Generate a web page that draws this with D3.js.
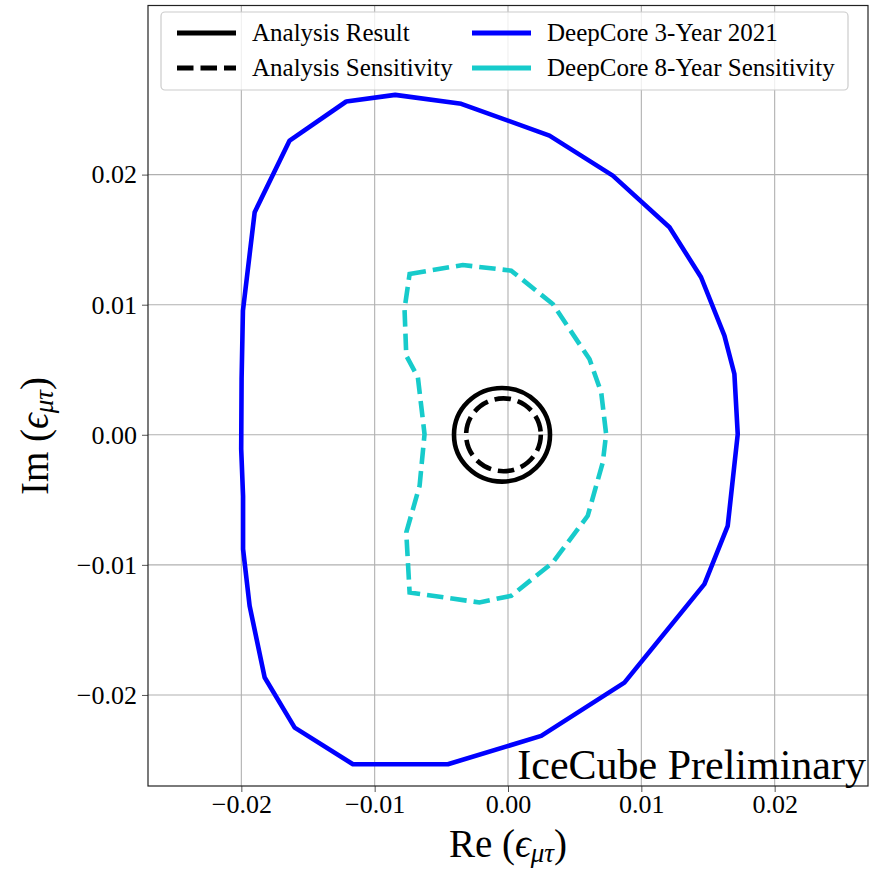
<!DOCTYPE html>
<html>
<head>
<meta charset="utf-8">
<script src="https://cdn.jsdelivr.net/npm/d3@7"></script>
<style>
  html, body { margin: 0; padding: 0; background: #fff; }
  svg { display: block; }
  text { font-family: "Liberation Serif", "DejaVu Serif", serif; fill: #000; }
</style>
</head>
<body>
<svg id="chart" width="878" height="869"></svg>
<script>
// Re / Im of epsilon_mu-tau: DeepCore 3-year 2021 contour (closed, clockwise)
const deepCore3yr = [
  [-0.01213, 0.02562], [-0.00846, 0.02613], [-0.00351, 0.02544], [0.00311, 0.02300],
  [0.00786, 0.01992], [0.01211, 0.01595], [0.01448, 0.01211], [0.01623, 0.00762],
  [0.01698, 0.00467], [0.01723, 0.00005], [0.01648, -0.00700], [0.01473, -0.01148],
  [0.00873, -0.01905], [0.00249, -0.02315], [-0.00451, -0.02533], [-0.01163, -0.02533],
  [-0.01600, -0.02251], [-0.01825, -0.01866], [-0.01938, -0.01315], [-0.01987, -0.00879],
  [-0.01987, -0.00472], [-0.02001, -0.00110], [-0.01998, 0.00428], [-0.01988, 0.00954],
  [-0.01900, 0.01711], [-0.01638, 0.02262]
];

// DeepCore 8-year sensitivity contour (closed, clockwise)
const deepCore8yr = [
  [-0.00738, 0.01236], [-0.00339, 0.01305], [0.00024, 0.01262], [0.00336, 0.01005],
  [0.00611, 0.00582], [0.00699, 0.00326], [0.00736, 0.00005], [0.00711, -0.00212],
  [0.00598, -0.00623], [0.00336, -0.00982], [0.00024, -0.01238], [-0.00214, -0.01289],
  [-0.00738, -0.01212], [-0.00763, -0.00751], [-0.00663, -0.00392], [-0.00626, 0.00005],
  [-0.00676, 0.00442], [-0.00763, 0.00608], [-0.00776, 0.00967]
];

// Analysis contours: [centre Re, centre Im, radius]
const analysisResult = [-0.00045, 0.0, 0.0036];
const analysisSensitivity = [-0.00034, 0.0, 0.0028];

// Axis ticks
const xTicks = [-0.02, -0.01, 0.0, 0.01, 0.02];
const yTicks = [-0.02, -0.01, 0.0, 0.01, 0.02];

// Legend entries
const legendLabels = ["Analysis Result", "Analysis Sensitivity", "DeepCore 3-Year 2021", "DeepCore 8-Year Sensitivity"];

const svg = d3.select("#chart");
const plot = { left: 148, right: 868, top: 5.5, bottom: 786 };

const x = d3.scaleLinear().domain([-0.027, 0.027]).range([plot.left, plot.right]);
const y = d3.scaleLinear().domain([-0.027, 0.033]).range([plot.bottom, plot.top]);

const BLUE = "#0000ff", CYAN = "#17cbcb", LW = 4.6, DASH = "16.5,7";
const fmt = v => (v < 0 ? "\u2212" : "") + Math.abs(v).toFixed(2);

svg.append("defs").append("clipPath").attr("id", "plotClip")
  .append("rect").attr("x", plot.left).attr("y", plot.top)
  .attr("width", plot.right - plot.left).attr("height", plot.bottom - plot.top);

// grid
const grid = svg.append("g");
grid.selectAll("line.gx").data(xTicks).join("line")
  .attr("x1", d => x(d)).attr("x2", d => x(d))
  .attr("y1", plot.top).attr("y2", plot.bottom)
  .attr("stroke", "#b0b0b0").attr("stroke-width", 1.1);
grid.selectAll("line.gy").data(yTicks).join("line")
  .attr("y1", d => y(d)).attr("y2", d => y(d))
  .attr("x1", plot.left).attr("x2", plot.right)
  .attr("stroke", "#b0b0b0").attr("stroke-width", 1.1);

// axes
const xAxis = d3.axisBottom(x).tickValues(xTicks).tickFormat(fmt).tickSize(6).tickPadding(3);
const yAxis = d3.axisLeft(y).tickValues(yTicks).tickFormat(fmt).tickSize(6).tickPadding(5);
const gx = svg.append("g").attr("transform", `translate(0,${plot.bottom})`).call(xAxis);
const gy = svg.append("g").attr("transform", `translate(${plot.left},0)`).call(yAxis);
[gx, gy].forEach(g => {
  g.select(".domain").remove();
  g.selectAll(".tick line").attr("stroke", "#555").attr("stroke-width", 1);
  g.selectAll(".tick text").attr("font-family", "Liberation Serif").attr("font-size", 26).attr("fill", "#000");
});

const body = svg.append("g").attr("clip-path", "url(#plotClip)");
const line = d3.line().x(d => x(d[0])).y(d => y(d[1])).curve(d3.curveLinearClosed);

body.append("path").datum(deepCore3yr).attr("d", line)
  .attr("fill", "none").attr("stroke", BLUE).attr("stroke-width", LW).attr("stroke-linejoin", "round");
body.append("path").datum(deepCore8yr).attr("d", line)
  .attr("fill", "none").attr("stroke", CYAN).attr("stroke-width", LW).attr("stroke-dasharray", DASH);

function ellipse(c) {
  return body.append("ellipse")
    .attr("cx", x(c[0])).attr("cy", y(c[1]))
    .attr("rx", x(c[0] + c[2]) - x(c[0])).attr("ry", y(c[1]) - y(c[1] + c[2]))
    .attr("fill", "none").attr("stroke", "#000").attr("stroke-width", LW);
}
ellipse(analysisResult);
ellipse(analysisSensitivity).attr("stroke-dasharray", DASH);

// frame
svg.append("rect").attr("x", plot.left).attr("y", plot.top)
  .attr("width", plot.right - plot.left).attr("height", plot.bottom - plot.top)
  .attr("fill", "none").attr("stroke", "#222").attr("stroke-width", 1.2);

// axis titles
function epsLabel(g, prefix) {
  const t = g.append("text").attr("font-size", 39).attr("text-anchor", "middle");
  t.append("tspan").text(prefix + " (");
  t.append("tspan").attr("font-style", "italic").text("\u03f5");
  t.append("tspan").attr("font-style", "italic").attr("font-size", 27).attr("dy", 5).text("\u03bc\u03c4");
  t.append("tspan").attr("dy", -5).text(")");
  return t;
}
epsLabel(svg.append("g").attr("transform", "translate(508,857)"), "Re");
epsLabel(svg.append("g").attr("transform", "translate(48,436) rotate(-90)"), "Im");

// watermark
svg.append("text").attr("x", 866).attr("y", 779).attr("text-anchor", "end")
  .attr("font-size", 42).text("IceCube Preliminary");

// legend
const leg = svg.append("g");
leg.append("rect").attr("x", 161).attr("y", 12).attr("width", 687).attr("height", 78).attr("rx", 4)
  .attr("fill", "#fff").attr("fill-opacity", 0.8).attr("stroke", "#cccccc").attr("stroke-width", 1.2);
const legendStyle = [
  { color: "#000", dash: null }, { color: "#000", dash: DASH },
  { color: BLUE, dash: null }, { color: CYAN, dash: null }
];
legendLabels.forEach((lab, i) => {
  const col = Math.floor(i / 2), row = i % 2;
  const lx = col === 0 ? 177 : 472, ly = row === 0 ? 33 : 68;
  leg.append("line").attr("x1", lx).attr("x2", lx + 59).attr("y1", ly).attr("y2", ly)
    .attr("stroke", legendStyle[i].color).attr("stroke-width", 5.2)
    .attr("stroke-dasharray", legendStyle[i].dash);
  leg.append("text").attr("x", lx + 75).attr("y", ly + 8).attr("font-size", 25).text(lab);
});
</script>
</body>
</html>
